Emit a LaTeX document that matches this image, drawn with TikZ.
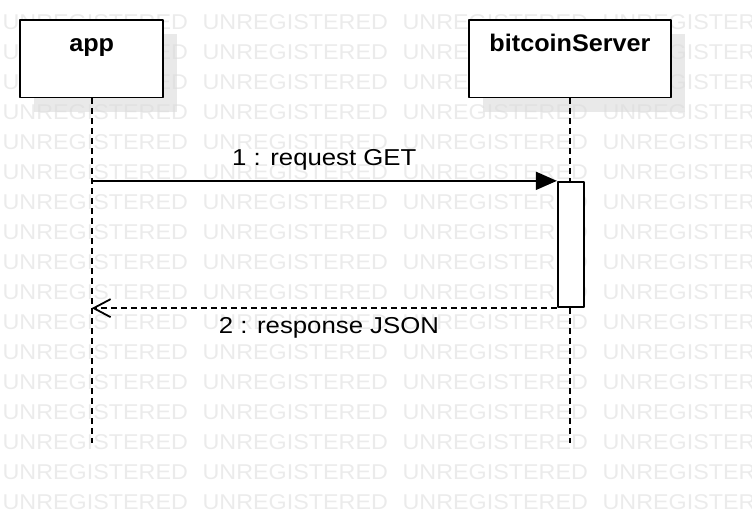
\documentclass[tikz,border=0pt]{standalone}
\usepackage{fontspec}
\setmainfont{Liberation Sans}
\newfontfamily\labelfont[FakeStretch=1.12]{Liberation Sans}
\newfontfamily\titlefont[FakeStretch=1.05]{Liberation Sans}
\newfontfamily\markfont[FakeStretch=1.09]{Liberation Sans}
\usetikzlibrary{arrows.meta,shadows}
\begin{document}
\begin{tikzpicture}[x=1pt, y=-1pt, line join=round, line width=1.8pt,
	wmark/.style={text=black!8, anchor=base west, inner sep=0pt, font=\markfont\fontsize{21.4}{25}\selectfont},
	lifebox/.style={draw, fill=white, minimum width=#1, minimum height=77.5pt, inner xsep=0pt, inner ysep=0pt,
		text height=31.4pt, text depth=46.1pt, font=\titlefont\bfseries\fontsize{24}{28}\selectfont,
		drop shadow={shadow xshift=14pt, shadow yshift=-14pt, fill=black!14, opacity=0.6}},
	actbox/.style={draw, fill=white, minimum width=26pt, minimum height=125.5pt, inner sep=0pt},
	lifeline/.style={dash pattern=on 6pt off 4pt},
	msglabel/.style={anchor=base, inner sep=0pt, font=\labelfont\fontsize{23}{27}\selectfont}]
	\path[use as bounding box, clip] (0,0) rectangle (752,526);

	% watermark
	\foreach \r in {-1,...,16}
	\foreach \c in {0,...,3}
	\node[wmark] (wm-\r-\c) at (1.7+200*\c, 29.5+30*\r) {UNREGISTERED};

	\path
	(91.7,443) coordinate (app-end)
	(570,443) coordinate (srv-end)
	;

	\node[lifebox=143pt] (app) at (91.7,58.8) {app};
	\node[lifebox=202.5pt] (srv) at (570,58.8) {bitcoinServer};

	\draw[lifeline] (app.south)--(app-end) (srv.south)--(srv-end);

	\node[actbox] (act) at (570.8,244.5) {};

	\draw[-{Triangle[length=21pt,width=18pt]}] (app-end |- act.north west)--node[msglabel, pos=0.5, yshift=15pt]{1 : request GET}(act.north west);
	\draw[lifeline, -{Straight Barb[length=17pt,width=18pt]}] (act.south west)--node[msglabel, pos=0.49, yshift=-25pt]{2 : response JSON}(app-end |- act.south west);
\end{tikzpicture}
\end{document}
